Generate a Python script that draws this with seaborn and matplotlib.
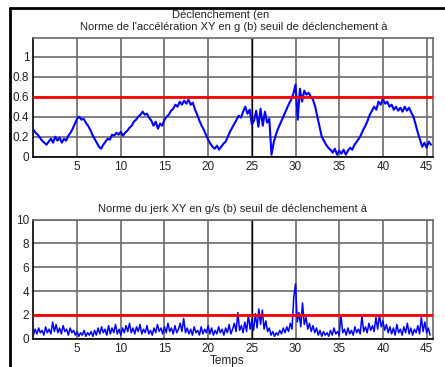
import numpy as np
import pandas as pd
import matplotlib
matplotlib.use("Agg")
import matplotlib.pyplot as plt
import seaborn as sns
from matplotlib.lines import Line2D

# ---------------- data ----------------
acc_step = 0.25
acc_xy = [
    0.27, 0.24, 0.22, 0.19, 0.16, 0.14, 0.12, 0.15, 0.18, 0.14, 0.20, 0.16,
    0.19, 0.14, 0.18, 0.16, 0.21, 0.24, 0.28, 0.33, 0.38, 0.40, 0.37, 0.38,
    0.34, 0.31, 0.27, 0.22, 0.18, 0.14, 0.10, 0.08, 0.12, 0.15, 0.18, 0.17,
    0.22, 0.21, 0.24, 0.22, 0.25, 0.21, 0.24, 0.26, 0.29, 0.31, 0.35, 0.37,
    0.40, 0.42, 0.45, 0.42, 0.43, 0.39, 0.36, 0.31, 0.35, 0.28, 0.33, 0.31,
    0.37, 0.40, 0.42, 0.46, 0.48, 0.52, 0.50, 0.55, 0.52, 0.56, 0.53, 0.57,
    0.52, 0.54, 0.47, 0.42, 0.36, 0.31, 0.27, 0.22, 0.17, 0.13, 0.10, 0.08,
    0.11, 0.07, 0.10, 0.13, 0.15, 0.20, 0.25, 0.29, 0.33, 0.37, 0.41, 0.39,
    0.45, 0.50, 0.43, 0.47, 0.32, 0.36, 0.46, 0.30, 0.48, 0.31, 0.45, 0.34,
    0.38, 0.02, 0.14, 0.22, 0.28, 0.33, 0.38, 0.43, 0.48, 0.53, 0.57, 0.63,
    0.72, 0.37, 0.68, 0.55, 0.66, 0.62, 0.64, 0.60, 0.57, 0.50, 0.40, 0.30,
    0.20, 0.16, 0.12, 0.09, 0.07, 0.04, 0.08, 0.02, 0.06, 0.03, 0.07, 0.02,
    0.06, 0.09, 0.07, 0.12, 0.15, 0.18, 0.22, 0.27, 0.31, 0.36, 0.42, 0.46,
    0.50, 0.47, 0.55, 0.52, 0.58, 0.53, 0.55, 0.50, 0.52, 0.47, 0.50, 0.46,
    0.49, 0.45, 0.50, 0.46, 0.49, 0.44, 0.40, 0.32, 0.24, 0.17, 0.10, 0.14,
    0.09, 0.15, 0.12,
]

jerk_step = 0.2
jerk_xy = [
    0.3, 0.8, 0.4, 0.9, 0.5,  0.7, 0.3, 1.0, 0.5, 0.8,
    0.4, 1.4, 0.6, 1.2, 0.5,  0.9, 0.4, 1.1, 0.6, 0.8,
    0.3, 0.9, 0.5, 0.7, 0.3,  0.6, 0.2, 0.5, 0.3, 0.7,
    0.2, 0.5, 0.3, 0.6, 0.2,  0.7, 0.3, 0.9, 0.4, 1.0,
    0.5, 0.8, 0.3, 1.1, 0.4,  0.9, 0.5, 1.2, 0.4, 0.8,
    0.3, 0.9, 0.5, 1.1, 0.6,  1.3, 0.5, 0.9, 0.4, 1.0,
    0.6, 1.2, 0.4, 0.8, 0.5,  1.1, 0.4, 0.7, 0.3, 0.9,
    0.5, 1.2, 0.6, 0.9, 0.4,  1.0, 0.5, 1.3, 0.6, 0.9,
    0.4, 1.1, 0.5, 0.8, 1.3,  0.6, 1.7, 0.5, 0.9, 0.4,
    0.8, 0.3, 1.0, 0.5, 0.7,  0.3, 1.0, 0.4, 0.8, 0.5,
    1.1, 0.4, 0.9, 0.3, 0.7,  0.4, 1.0, 0.5, 0.8, 0.3,
    0.9, 0.5, 1.2, 0.4, 0.8,  1.3, 0.6, 2.2, 0.7, 1.1,
    0.5, 1.4, 0.6, 2.0, 0.8,  1.6, 0.7, 2.1, 0.9, 2.5,
    1.2, 2.4, 0.8, 1.5, 0.6,  0.9, 0.3, 0.6, 0.2, 0.5,
    0.3, 0.7, 0.4, 0.9, 0.5,  1.0, 0.6, 1.3, 0.8, 3.5,
    4.6, 1.4, 2.2, 1.0, 3.0,  1.2, 1.8, 0.8, 1.3, 0.6,
    1.1, 0.5, 0.9, 0.3, 0.7,  0.2, 0.6, 0.3, 0.5, 0.2,
    0.7, 0.3, 0.9, 0.4, 0.6,  0.3, 2.0, 0.5, 0.8, 0.3,
    0.9, 0.4, 0.7, 0.3, 1.0,  0.5, 0.8, 0.4, 1.9, 0.6,
    1.0, 0.5, 1.3, 0.7, 1.1,  0.6, 1.8, 0.8, 2.0, 1.0,
    1.5, 0.7, 1.2, 0.5, 1.0,  0.4, 0.9, 0.3, 1.2, 0.5,
    0.8, 0.3, 1.0, 0.5, 1.3,  0.4, 0.9, 0.3, 0.8, 0.5,
    1.1, 0.4, 1.8, 0.6, 1.4,  0.5, 0.9, 0.3,
]

seuil_acc = 0.6
seuil_jerk = 2.0

x_ticks = [5, 10, 15, 20, 25, 30, 35, 40, 45]
y_ticks_acc = [0, 0.2, 0.4, 0.6, 0.8, 1]
y_tick_labels_acc = ["0", "0.2", "0.4", "0.6", "0.8", "1"]
y_ticks_jerk = [0, 2, 4, 6, 8, 10]

title1_a = "Déclenchement (en"
title1_b = "Norme de l'accélération XY en g (b) seuil de déclenchement à"
title2 = "Norme du jerk XY en g/s (b) seuil de déclenchement à"
xlabel = "Temps"

# ---------------- figure ----------------
sns.set_style("white")
plt.rcParams["font.family"] = ["Liberation Sans", "DejaVu Sans"]

W, H = 445, 367
FS = 8
TXT = "#222222"
fig = plt.figure(figsize=(W / 100, H / 100), dpi=100)
fig.patch.set_facecolor("white")

def px_axes(l, t, r, b):
    return fig.add_axes([l / W, 1 - b / H, (r - l) / W, (b - t) / H])

ax1 = px_axes(33.4, 37.7, 432.7, 156.7)
ax2 = px_axes(33.4, 219.7, 432.7, 338.7)

df_acc = pd.DataFrame({"t": np.arange(len(acc_xy)) * acc_step, "v": acc_xy})
df_jerk = pd.DataFrame({"t": np.arange(len(jerk_xy)) * jerk_step, "v": jerk_xy})

xmax = 45.7
for ax, df, seuil, ylim, yt, ytl, lw in [
    (ax1, df_acc, seuil_acc, (0, 1.19), y_ticks_acc, y_tick_labels_acc, 1.5),
    (ax2, df_jerk, seuil_jerk, (0, 10), y_ticks_jerk,
     [str(v) for v in y_ticks_jerk], 1.1),
]:
    sns.lineplot(data=df, x="t", y="v", ax=ax, color="#0000ff", lw=lw,
                 estimator=None, sort=False, zorder=3)
    ax.axhline(seuil, color="#ff0000", lw=2.0, zorder=4)
    ax.set_xlim(0, xmax)
    ax.set_ylim(*ylim)
    ax.set_xticks(x_ticks)
    ax.set_xticklabels([str(v) for v in x_ticks])
    ax.set_yticks(yt)
    ax.set_yticklabels(ytl)
    ax.grid(True, color="#6a6a6a", lw=1.2, zorder=1)
    ax.set_axisbelow(True)
    ax.set_xlabel("")
    ax.set_ylabel("")
    ax.tick_params(axis="both", labelsize=FS + 0.5, length=0, pad=3,
                   colors=TXT)
    for name, sp in ax.spines.items():
        sp.set_color("#6a6a6a")
        sp.set_linewidth(1.2)
    ax.spines["left"].set_color("black")
    ax.spines["bottom"].set_color("black")
    # darker gridline at 25
    ax.axvline(25, color="black", lw=1.0, zorder=1.5)

fig.text(221 / W, 1 - 15 / H, title1_a, ha="center", va="center", fontsize=FS,
         color=TXT)
fig.text(234 / W, 1 - 27.3 / H, title1_b, ha="center", va="center", fontsize=FS,
         color=TXT)
fig.text(233 / W, 1 - 209.3 / H, title2, ha="center", va="center", fontsize=FS,
         color=TXT)
fig.text(227 / W, 1 - 361 / H, xlabel, ha="center", va="center", fontsize=FS + 0.5,
         color=TXT)

# outer window frame
fig.add_artist(Line2D([10 / W, 10 / W], [0, 1 - 8 / H], color="black", lw=2,
                      transform=fig.transFigure))
fig.add_artist(Line2D([10 / W, 1], [1 - 8 / H, 1 - 8 / H], color="black", lw=2,
                      transform=fig.transFigure))

fig.savefig("out.png", dpi=100, facecolor="white")
